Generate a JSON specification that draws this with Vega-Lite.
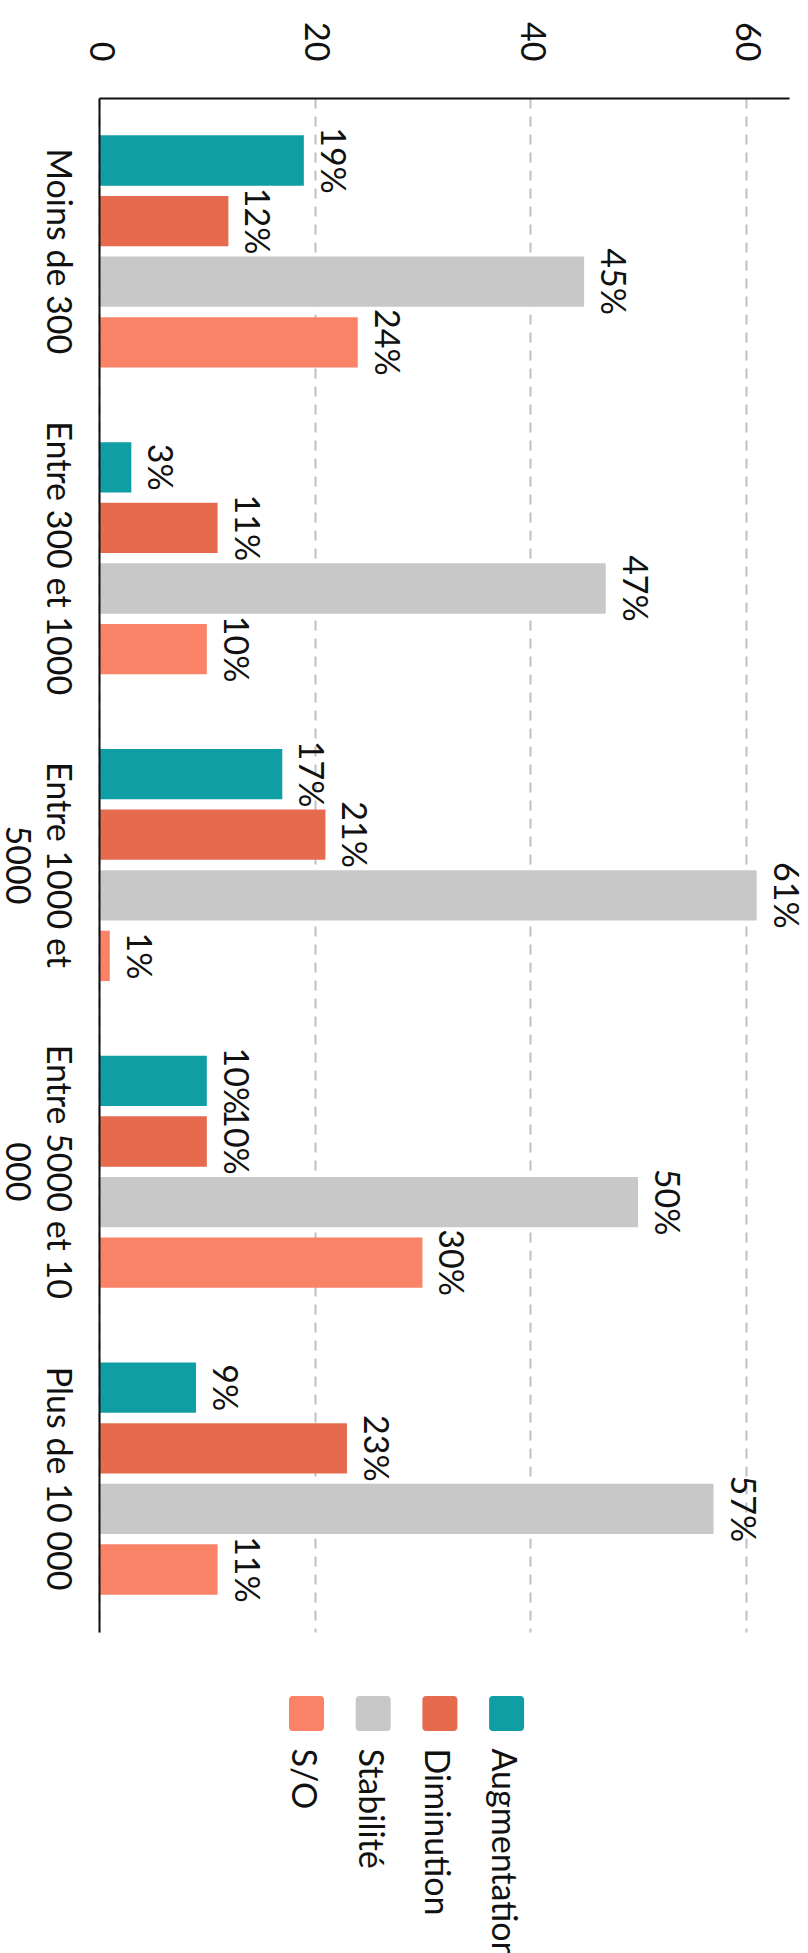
{
  "$schema": "https://vega.github.io/schema/vega-lite/v6.json",
  "width": 690,
  "height": 1534,
  "autosize": {"type": "none"},
  "padding": {"left": 99, "top": 98, "right": 19, "bottom": 321},
  "background": "white",
  "config": {"view": {"stroke": null}, "font": "Lato"},
  "data": {
    "values": [
      {"taille": "Moins de 300", "evolution": "Augmentation", "pct": 19},
      {"taille": "Moins de 300", "evolution": "Diminution", "pct": 12},
      {"taille": "Moins de 300", "evolution": "Stabilité", "pct": 45},
      {"taille": "Moins de 300", "evolution": "S/O", "pct": 24},
      {"taille": "Entre 300 et 1000", "evolution": "Augmentation", "pct": 3},
      {"taille": "Entre 300 et 1000", "evolution": "Diminution", "pct": 11},
      {"taille": "Entre 300 et 1000", "evolution": "Stabilité", "pct": 47},
      {"taille": "Entre 300 et 1000", "evolution": "S/O", "pct": 10},
      {"taille": "Entre 1000 et 5000", "evolution": "Augmentation", "pct": 17},
      {"taille": "Entre 1000 et 5000", "evolution": "Diminution", "pct": 21},
      {"taille": "Entre 1000 et 5000", "evolution": "Stabilité", "pct": 61},
      {"taille": "Entre 1000 et 5000", "evolution": "S/O", "pct": 1},
      {"taille": "Entre 5000 et 10 000", "evolution": "Augmentation", "pct": 10},
      {"taille": "Entre 5000 et 10 000", "evolution": "Diminution", "pct": 10},
      {"taille": "Entre 5000 et 10 000", "evolution": "Stabilité", "pct": 50},
      {"taille": "Entre 5000 et 10 000", "evolution": "S/O", "pct": 30},
      {"taille": "Plus de 10 000", "evolution": "Augmentation", "pct": 9},
      {"taille": "Plus de 10 000", "evolution": "Diminution", "pct": 23},
      {"taille": "Plus de 10 000", "evolution": "Stabilité", "pct": 57},
      {"taille": "Plus de 10 000", "evolution": "S/O", "pct": 11}
    ]
  },
  "encoding": {
    "y": {
      "field": "taille",
      "type": "nominal",
      "sort": ["Moins de 300", "Entre 300 et 1000", "Entre 1000 et 5000", "Entre 5000 et 10 000", "Plus de 10 000"],
      "scale": {"paddingInner": 0.21, "paddingOuter": 0.105},
      "axis": {
        "title": null,
        "orient": "left",
        "ticks": false,
        "tickSize": 0,
        "grid": false,
        "domain": true,
        "domainColor": "#111111",
        "domainWidth": 2,
        "labelAngle": 90,
        "labelAlign": "center",
        "labelBaseline": "top",
        "labelPadding": 26,
        "labelFont": "Lato",
        "labelFontSize": 34,
        "labelColor": "#111111",
        "labelLimit": 400,
        "labelLineHeight": 41,
        "labelExpr": "datum.value == 'Entre 1000 et 5000' ? ['Entre 1000 et', '5000'] : datum.value == 'Entre 5000 et 10 000' ? ['Entre 5000 et 10', '000'] : datum.value",
        "zindex": 1
      }
    },
    "yOffset": {
      "field": "evolution",
      "type": "nominal",
      "sort": ["Augmentation", "Diminution", "Stabilité", "S/O"],
      "scale": {"paddingInner": 0.17, "paddingOuter": 0.085}
    },
    "x": {
      "field": "pct",
      "type": "quantitative",
      "scale": {"domain": [0, 64], "nice": false},
      "axis": {
        "title": null,
        "orient": "top",
        "values": [0, 20, 40, 60],
        "ticks": false,
        "tickSize": 0,
        "domainColor": "#111111",
        "domainWidth": 2,
        "labelAngle": 90,
        "labelAlign": "right",
        "labelBaseline": "middle",
        "labelPadding": 37,
        "labelFont": "Lato",
        "labelFontSize": 34,
        "labelColor": "#111111",
        "labelFlush": false,
        "labelOverlap": false,
        "grid": true,
        "gridColor": "#c0c0c0",
        "gridWidth": 2,
        "gridDash": [10, 8],
        "zindex": 0
      }
    }
  },
  "layer": [
    {
      "mark": {"type": "bar"},
      "encoding": {
        "color": {
          "field": "evolution",
          "type": "nominal",
          "scale": {
            "domain": ["Augmentation", "Diminution", "Stabilité", "S/O"],
            "range": ["#109EA5", "#E66B4E", "#C8C8C8", "#FA8267"]
          },
          "legend": {
            "orient": "none",
            "legendX": 190,
            "legendY": 1597,
            "direction": "horizontal",
            "title": null,
            "padding": 0,
            "values": ["S/O", "Stabilité", "Diminution", "Augmentation"],
            "symbolType": "M-0.8,-1H0.8A0.2,0.2,0,0,1,1,-0.8V0.8A0.2,0.2,0,0,1,0.8,1H-0.8A0.2,0.2,0,0,1,-1,0.8V-0.8A0.2,0.2,0,0,1,-0.8,-1Z M0,20L0,20.001",
            "symbolSize": 1225,
            "symbolStrokeWidth": 0,
            "symbolOpacity": 1,
            "columnPadding": 27.7,
            "labelFont": "Lato",
            "labelFontSize": 34,
            "labelColor": "#111111",
            "labelLimit": 500,
            "labelOffset": 0,
            "encoding": {
              "symbols": {"x": {"value": 17.5}, "y": {"value": 18}},
              "labels": {
                "x": {"value": 13},
                "y": {"value": 53},
                "angle": {"value": 90},
                "align": {"value": "left"},
                "baseline": {"value": "middle"}
              }
            }
          }
        }
      }
    },
    {
      "mark": {
        "type": "text",
        "angle": 90,
        "align": "center",
        "baseline": "alphabetic",
        "dy": -17,
        "font": "Lato",
        "fontSize": 34,
        "color": "#111111",
        "text": {"expr": "datum.pct + '%'"}
      }
    }
  ]
}
